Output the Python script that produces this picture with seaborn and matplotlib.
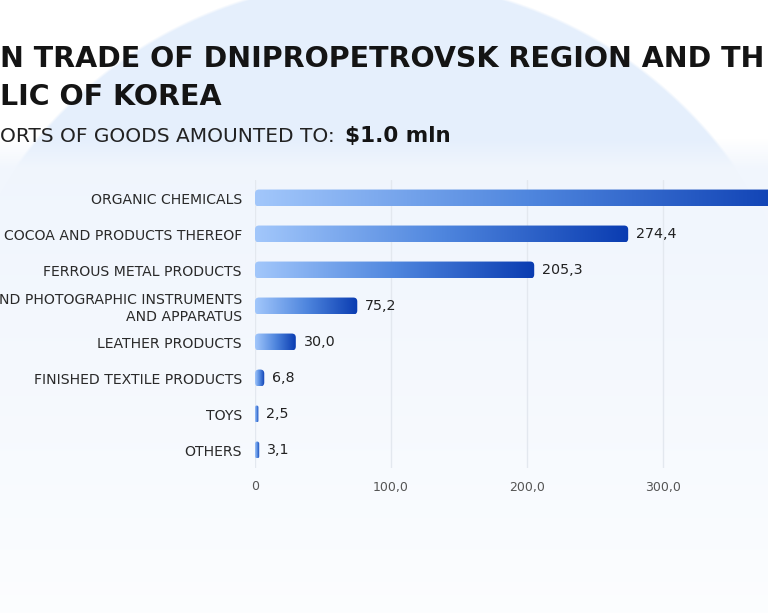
import numpy as np
import pandas as pd
import matplotlib
matplotlib.use("Agg")
import matplotlib.pyplot as plt
import seaborn as sns
from matplotlib.patches import FancyBboxPatch
from matplotlib.colors import LinearSegmentedColormap

# ---------------- data ----------------
categories = [
    "ORGANIC CHEMICALS",
    "COCOA AND PRODUCTS THEREOF",
    "FERROUS METAL PRODUCTS",
    "ND PHOTOGRAPHIC INSTRUMENTS\nAND APPARATUS",
    "LEATHER PRODUCTS",
    "FINISHED TEXTILE PRODUCTS",
    "TOYS",
    "OTHERS",
]
values = [402.7, 274.4, 205.3, 75.2, 30.0, 6.8, 2.5, 3.1]
value_labels = ["402,7", "274,4", "205,3", "75,2", "30,0", "6,8", "2,5", "3,1"]
x_ticks = [0, 100, 200, 300]
x_tick_labels = ["0", "100,0", "200,0", "300,0"]
title_line1 = "N TRADE OF DNIPROPETROVSK REGION AND TH"
title_line2 = "LIC OF KOREA"
subtitle = "ORTS OF GOODS AMOUNTED TO:"
subtitle_value = "$1.0 mln"

df = pd.DataFrame({"category": categories, "value": values})

W, H = 768, 613
sns.set_theme(style="white")
plt.rcParams["font.family"] = ["DejaVu Sans"]

fig = plt.figure(figsize=(W / 100, H / 100), dpi=100)
fig.patch.set_facecolor("white")

# ---------------- background ----------------
bg = fig.add_axes([0, 0, 1, 1])
bg.axis("off")
yy, xx = np.mgrid[0:H, 0:W].astype(float)
img = np.ones((H, W, 3))
dist = np.sqrt((xx - 375) ** 2 + (yy - 420) ** 2)
inside = np.clip((440 - dist) / 3 + 0.5, 0, 1)[..., None]
circle_col = np.array([229, 239, 252]) / 255.0
img = img * (1 - inside) + circle_col * inside
# card overlay
card_a = np.clip((yy - 138) / 30, 0, 1)[..., None] * 0.96
t = np.clip((yy - 160) / (H - 160), 0, 1)[..., None]
top_c = np.array([241, 246, 253]) / 255.0
bot_c = np.array([253, 254, 255]) / 255.0
card_col = top_c * (1 - t ** 1.3) + bot_c * (t ** 1.3)
img = img * (1 - card_a) + card_col * card_a
bg.imshow(img, extent=(0, W, H, 0), aspect="auto", interpolation="bilinear")
bg.set_xlim(0, W)
bg.set_ylim(H, 0)

# ---------------- main axes ----------------
px_per_unit = 1.36
x0_px, y_top_px, y_bot_px = 255, 180, 468
xmax = 420
ax_w = xmax * px_per_unit
ax = fig.add_axes([x0_px / W, 1 - y_bot_px / H, ax_w / W, (y_bot_px - y_top_px) / H])
ax.patch.set_alpha(0)

sns.barplot(data=df, x="value", y="category", orient="h", ax=ax,
            width=0.47, color="#2d62c8", saturation=1)

ax.set_xlim(0, xmax)
ax.set_ylim(len(categories) - 0.5, -0.5)

cmap = LinearSegmentedColormap.from_list("bar", ["#a2c7fb", "#4f86de", "#0a3cb1"])
grad = np.linspace(0, 1, 256).reshape(1, -1)
unit_per_px_x = 1 / px_per_unit
unit_per_px_y = 1 / 36.0
aspect = unit_per_px_y / unit_per_px_x
for p in list(ax.patches):
    bx, by, bw, bh = p.get_x(), p.get_y(), p.get_width(), p.get_height()
    p.set_visible(False)
    r = min(4.0 * unit_per_px_x, bw / 2)
    box = FancyBboxPatch((bx, by), bw, bh,
                         boxstyle=f"round,pad=0,rounding_size={r}",
                         mutation_aspect=aspect, facecolor="none", edgecolor="none")
    ax.add_patch(box)
    im = ax.imshow(grad, extent=(bx, bx + bw, by + bh, by), cmap=cmap,
                   aspect="auto", interpolation="bicubic", zorder=2)
    im.set_clip_path(box)

ax.set_xlim(0, xmax)
ax.set_ylim(len(categories) - 0.5, -0.5)

# value labels (the one for the longest bar lies beyond the visible area)
visible_max = (W - x0_px) / px_per_unit
for i, (v, lab) in enumerate(zip(values, value_labels)):
    lx = v + 8 * unit_per_px_x
    if lx + 40 * unit_per_px_x < visible_max:
        ax.text(lx, i, lab, va="center", ha="left",
                fontsize=10.3, color="#222222", zorder=3)

ax.set_xticks(x_ticks)
ax.set_xticklabels(x_tick_labels)
ax.grid(axis="x", color="#e3e8ef", linewidth=1)
ax.grid(axis="y", visible=False)
ax.set_axisbelow(True)
for s in ax.spines.values():
    s.set_visible(False)
ax.tick_params(axis="x", length=0, pad=9, labelsize=9, labelcolor="#555555")
ax.tick_params(axis="y", length=0, pad=9.5, labelsize=10.1, labelcolor="#2a2a2a")
for tl in ax.get_yticklabels():
    tl.set_multialignment("right")
ax.set_xlabel("")
ax.set_ylabel("")

# ---------------- titles ----------------
fig.text(0, 1 - 67 / H, title_line1, fontsize=20.5, fontweight="bold",
         color="#141414", ha="left", va="baseline")
fig.text(0, 1 - 105 / H, title_line2, fontsize=20.5, fontweight="bold",
         color="#141414", ha="left", va="baseline")
fig.text(0, 1 - 142 / H, subtitle, fontsize=14.5, color="#222222",
         ha="left", va="baseline")
fig.text(345 / W, 1 - 142 / H, subtitle_value, fontsize=15.5, fontweight="bold",
         color="#141414", ha="left", va="baseline")

fig.savefig("out.png", dpi=100)
